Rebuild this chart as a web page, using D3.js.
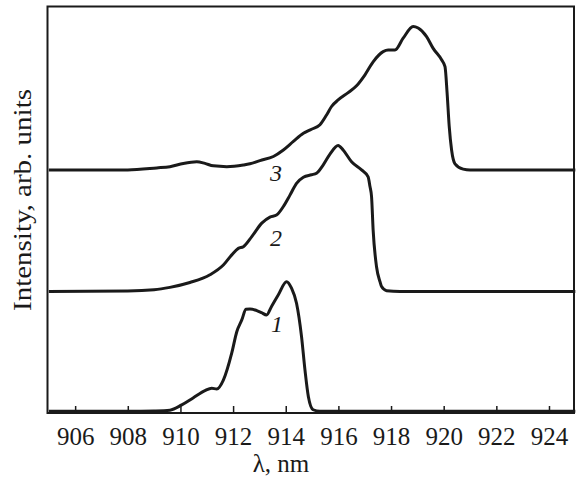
<!DOCTYPE html>
<html>
<head>
<meta charset="utf-8">
<script src="https://cdn.jsdelivr.net/npm/d3@7"></script>
<style>
  body { margin: 0; background: #fff; }
</style>
</head>
<body>
<div id="chart"></div>
<script>
// wavelength ticks
const xTicks = [906, 908, 910, 912, 914, 916, 918, 920, 922, 924];

// curve 1
const lambda1 = [905, 908, 909, 909.6, 910.05, 910.48, 910.93, 911.19, 911.38, 911.63, 911.95, 912.14, 912.33, 912.49, 912.64, 912.9, 913.08, 913.27, 913.46, 913.72, 914.03, 914.22, 914.41, 914.6, 914.73, 914.86, 915.04, 915.3, 925];
const int1 = [0, 0, 0.1, 0.3, 1.6, 3.3, 5.1, 5.7, 5.5, 7.7, 14.4, 19.6, 22.5, 25.1, 25.2, 24.8, 24.3, 23.7, 25.8, 28.7, 31.9, 30.3, 26.6, 18.4, 10.2, 3.6, 0.4, 0, 0];

// curve 2
const lambda2 = [905, 908, 909, 909.6, 910.36, 911.12, 911.63, 911.95, 912.2, 912.39, 912.71, 913.09, 913.4, 913.65, 913.91, 914.16, 914.41, 914.67, 914.98, 915.17, 915.42, 915.68, 915.99, 916.18, 916.5, 916.88, 917.13, 917.2, 917.26, 917.32, 917.45, 917.58, 917.64, 917.83, 918.34, 925];
const int2 = [0, 0.1, 0.4, 1.0, 2.2, 4.1, 6.5, 9.0, 10.6, 11.0, 13.5, 16.8, 18.3, 18.8, 20.9, 23.7, 26.6, 28.1, 28.7, 29.1, 31.1, 33.8, 35.9, 34.8, 31.9, 29.9, 28.2, 25.8, 23.3, 15.1, 6.0, 2.4, 1.2, 0.2, 0, 0];

// curve 3
const lambda3 = [905, 908, 909.1, 909.6, 910.11, 910.62, 910.93, 911.25, 911.76, 912.39, 912.64, 913.02, 913.53, 913.91, 914.29, 914.67, 914.98, 915.3, 915.55, 915.74, 915.99, 916.37, 916.69, 917.01, 917.32, 917.7, 917.89, 918.15, 918.46, 918.84, 919.03, 919.35, 919.6, 919.92, 920.05, 920.13, 920.21, 920.3, 920.43, 920.74, 921, 925];
const int3 = [0, 0, 0.5, 0.8, 1.6, 2.0, 1.6, 1.0, 0.8, 1.2, 1.5, 2.3, 3.3, 4.9, 7.0, 9.0, 10.0, 11.1, 13.5, 15.6, 17.2, 19.0, 20.7, 23.4, 26.6, 29.1, 29.5, 29.5, 32.4, 35.3, 34.9, 32.8, 29.9, 27.1, 25.4, 18.9, 10.7, 4.9, 1.5, 0.2, 0, 0];

const curveLabels = ["1", "2", "3"];
const offsets = [0.4, 29.9, 59.8];
const labelPos = [[913.67, 19.9], [913.63, 41.1], [913.63, 57.1]];

const width = 578, height = 481;
const margin = { top: 6.5, right: 4, bottom: 68, left: 47.5 };
const serif = "'Liberation Serif', 'Times New Roman', serif";

const svg = d3.select("#chart").append("svg")
  .attr("width", width).attr("height", height);

const x = d3.scaleLinear().domain([904.95, 924.95])
  .range([margin.left, width - margin.right]);
const y = d3.scaleLinear().domain([0, 100])
  .range([height - margin.bottom, margin.top]);

const series = [
  { l: lambda1, v: int1 },
  { l: lambda2, v: int2 },
  { l: lambda3, v: int3 }
];

const line = d3.line()
  .x(d => x(d[0]))
  .y(d => y(d[1]))
  .curve(d3.curveMonotoneX);

series.forEach((s, i) => {
  const pts = s.l.map((l, j) => [l, s.v[j] + offsets[i]]);
  svg.append("path")
    .datum(pts)
    .attr("d", line)
    .attr("fill", "none")
    .attr("stroke", "#1a1a1a")
    .attr("stroke-width", 3)
    .attr("stroke-linejoin", "round");
});

// frame
svg.append("rect")
  .attr("x", margin.left).attr("y", margin.top)
  .attr("width", width - margin.right - margin.left)
  .attr("height", height - margin.bottom - margin.top)
  .attr("fill", "none").attr("stroke", "#1a1a1a").attr("stroke-width", 2);

// bottom axis, ticks inward
const xAxis = svg.append("g")
  .attr("transform", `translate(0, ${height - margin.bottom})`)
  .call(d3.axisBottom(x).tickValues(xTicks).tickSizeInner(-7).tickSizeOuter(0).tickPadding(14));
xAxis.select(".domain").remove();
xAxis.selectAll("line").attr("stroke", "#1a1a1a").attr("stroke-width", 1.5);
xAxis.selectAll("text")
  .style("font-family", serif)
  .style("font-size", "25px")
  .style("fill", "#1a1a1a");

// curve numbers
curveLabels.forEach((t, i) => {
  svg.append("text")
    .attr("x", x(labelPos[i][0]))
    .attr("y", y(labelPos[i][1]))
    .attr("text-anchor", "middle")
    .style("font-family", serif)
    .style("font-style", "italic")
    .style("font-size", "24px")
    .style("fill", "#1a1a1a")
    .text(t);
});

svg.append("text")
  .attr("x", 281)
  .attr("y", 472)
  .attr("text-anchor", "middle")
  .style("font-family", serif)
  .style("font-size", "25px")
  .style("fill", "#1a1a1a")
  .text("λ, nm");

svg.append("text")
  .attr("transform", "rotate(-90)")
  .attr("x", -200)
  .attr("y", 31)
  .attr("text-anchor", "middle")
  .attr("textLength", 222)
  .attr("lengthAdjust", "spacingAndGlyphs")
  .style("font-family", serif)
  .style("font-size", "26px")
  .style("fill", "#1a1a1a")
  .text("Intensity, arb. units");
</script>
</body>
</html>
